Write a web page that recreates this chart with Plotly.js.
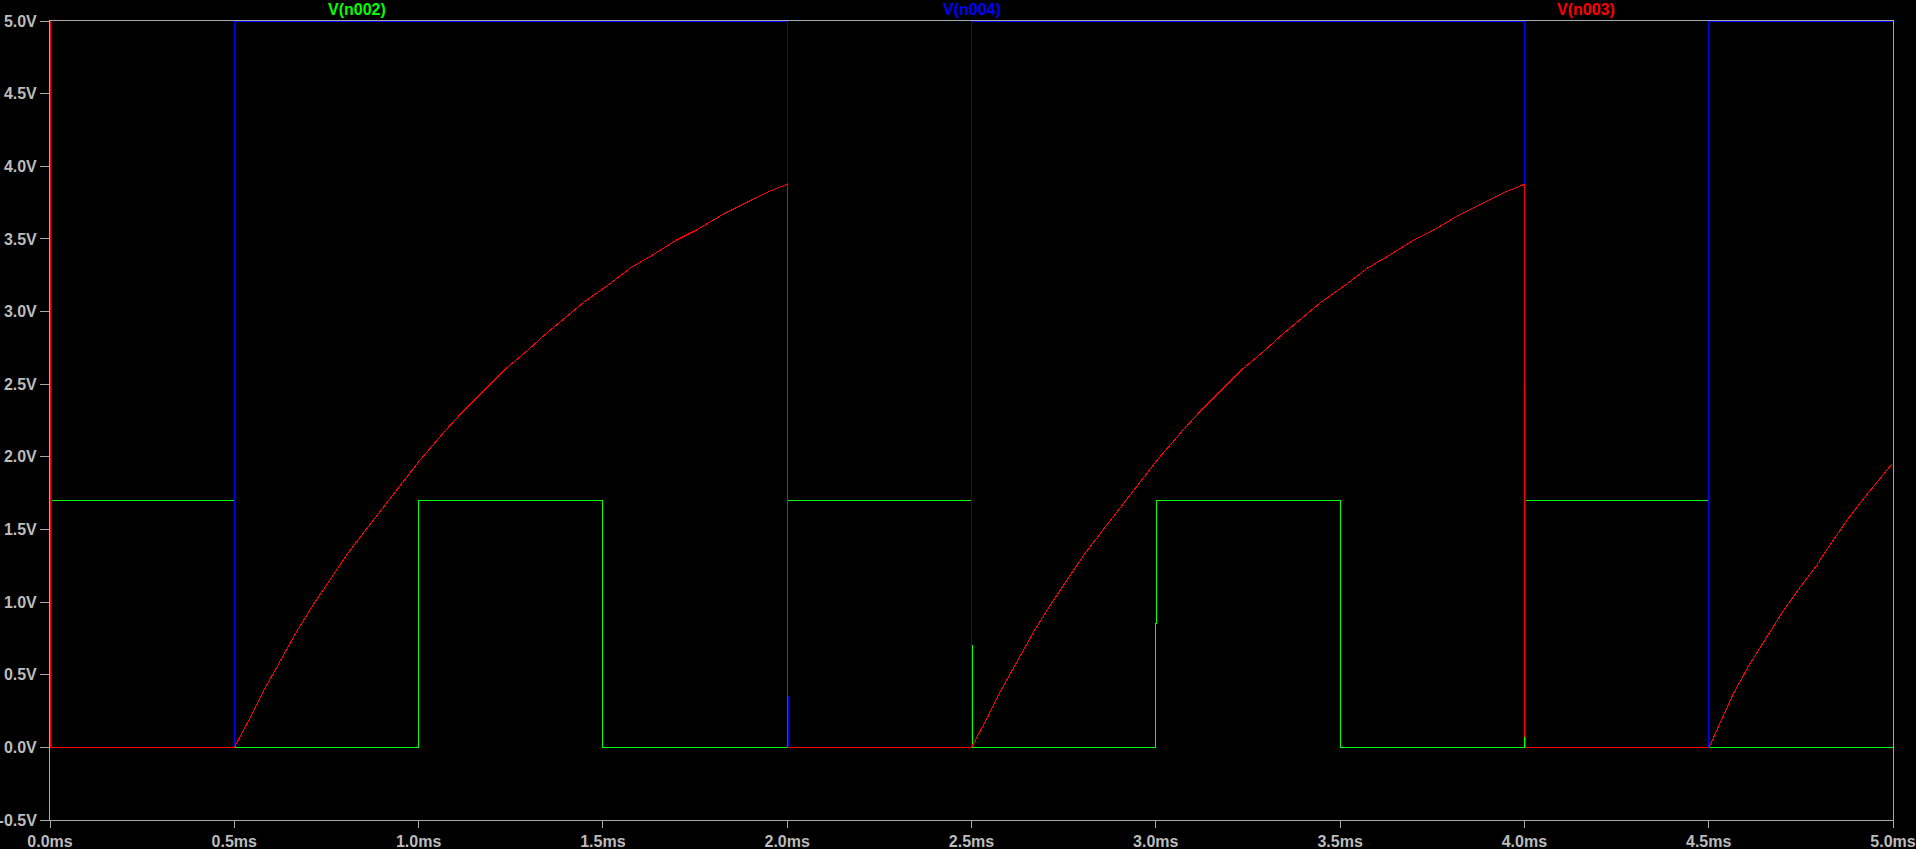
<!DOCTYPE html>
<html>
<head>
<meta charset="utf-8">
<script src="https://cdn.plot.ly/plotly-3.0.1.min.js"></script>
<style>
  html, body { margin: 0; padding: 0; background: #000; }
  #chart { width: 1916px; height: 849px; }
  #chart .js-line { shape-rendering: crispEdges; }
</style>
</head>
<body>
<div id="chart"></div>
<script>
// ---- Data (time in ms, voltage in V) ----
const seriesNames = ["V(n002)", "V(n004)", "V(n003)"];

// V(n002) – green square wave
const greenT = [0.0, 0.5, 0.5, 1.0, 1.0, 1.5, 1.5, 2.0, 2.0, 2.5, 2.5, 2.503, 2.503,
                3.0, 3.0, 3.002, 3.002, 3.5, 3.5, 3.502, 3.502, 4.0, 4.0, 4.004, 4.004, 4.5, 4.5, 5.0];
const greenV = [1.7, 1.7, 0.0, 0.0, 1.7, 1.7, 0.0, 0.0, 1.7, 1.7, 0.70, 0.70, 0.0,
                0.0, 0.85, 0.85, 1.7, 1.7, 0.85, 0.85, 0.0, 0.0, 0.846, 0.846, 1.7, 1.7, 0.0, 0.0];

// V(n004) – blue
const blueT = [0.003, 0.003, 0.5, 0.5, 2.0, 2.0, 2.004, 2.004, 2.5, 2.5, 4.0, 4.0, 4.003, 4.003, 4.5, 4.5, 5.0];
const blueV = [3.48, 0.0, 0.0, 5.0, 5.0, 0.35, 0.35, 0.0, 0.0, 5.0, 5.0, 2.49, 2.49, 0.0, 0.0, 5.0, 5.0];

// V(n003) – red charging curve
const redT = [0.0, 0.0, 0.5,
  0.543, 0.579, 0.625, 0.670, 0.715, 0.751, 0.806, 0.851, 0.896, 0.941, 1.002,
  1.068, 1.113, 1.158, 1.235, 1.294, 1.339, 1.393, 1.447, 1.518, 1.574, 1.628,
  1.701, 1.755, 1.827, 1.890, 1.945, 2.0,
  2.0, 2.5,
  2.543, 2.579, 2.625, 2.670, 2.715, 2.751, 2.806, 2.851, 2.896, 2.941, 3.002,
  3.068, 3.113, 3.158, 3.235, 3.294, 3.339, 3.393, 3.447, 3.518, 3.574, 3.628,
  3.701, 3.755, 3.827, 3.890, 3.945, 4.001,
  4.001, 4.004, 4.004, 4.501,
  4.530, 4.566, 4.611, 4.657, 4.702, 4.747, 4.792, 4.824, 4.874, 4.919, 4.964, 4.998];
const redV = [5.0, 0.0, 0.0,
  0.204, 0.388, 0.594, 0.801, 0.985, 1.123, 1.329, 1.478, 1.627, 1.777, 1.972,
  2.167, 2.293, 2.408, 2.603, 2.729, 2.833, 2.948, 3.062, 3.189, 3.299, 3.379,
  3.494, 3.563, 3.671, 3.751, 3.820, 3.877,
  0.0, 0.0,
  0.204, 0.388, 0.594, 0.801, 0.985, 1.123, 1.329, 1.478, 1.627, 1.777, 1.972,
  2.167, 2.293, 2.408, 2.603, 2.729, 2.833, 2.948, 3.062, 3.189, 3.299, 3.379,
  3.494, 3.563, 3.671, 3.751, 3.820, 3.877,
  0.074, 0.074, 0.0, 0.0,
  0.158, 0.365, 0.572, 0.755, 0.939, 1.099, 1.249, 1.375, 1.559, 1.708, 1.846, 1.953];

// Tick labels
const xTickVals = [0.0, 0.5, 1.0, 1.5, 2.0, 2.5, 3.0, 3.5, 4.0, 4.5, 5.0];
const xTickText = ["0.0ms", "0.5ms", "1.0ms", "1.5ms", "2.0ms", "2.5ms", "3.0ms", "3.5ms", "4.0ms", "4.5ms", "5.0ms"];
const yTickVals = [-0.5, 0.0, 0.5, 1.0, 1.5, 2.0, 2.5, 3.0, 3.5, 4.0, 4.5, 5.0];
const yTickText = ["-0.5V", "0.0V", "0.5V", "1.0V", "1.5V", "2.0V", "2.5V", "3.0V", "3.5V", "4.0V", "4.5V", "5.0V"];

const colors = ["#00ff00", "#0000ff", "#ff0000"];
const axisGrey = "#a8a8a8";
const labelGrey = "#bcbcbc";
const fontFam = "Liberation Sans, Arial, sans-serif";

const traces = [
  { x: greenT, y: greenV, name: seriesNames[0], mode: "lines", cliponaxis: false, line: { color: colors[0], width: 1 } },
  { x: blueT,  y: blueV,  name: seriesNames[1], mode: "lines", cliponaxis: false, line: { color: colors[1], width: 1 } },
  { x: redT,   y: redV,   name: seriesNames[2], mode: "lines", cliponaxis: false, line: { color: colors[2], width: 1 } }
];

const titleX = [1/6, 1/2, 5/6];
const annotations = seriesNames.map((n, i) => ({
  text: n, x: titleX[i], xref: "paper", y: 1, yref: "paper",
  xanchor: "center", yanchor: "middle", yshift: 12, showarrow: false,
  font: { family: fontFam, size: 16, color: colors[i], weight: "bold" }
}));

const layout = {
  width: 1916, height: 849,
  margin: { l: 50, r: 23, t: 21, b: 29, pad: 0 },
  paper_bgcolor: "#000000", plot_bgcolor: "#000000",
  showlegend: false,
  xaxis: {
    range: [0, 5], showgrid: false, zeroline: false, layer: "below traces",
    showline: true, mirror: true, linecolor: axisGrey, linewidth: 1,
    ticks: "outside", ticklen: 7, tickcolor: axisGrey, tickwidth: 1,
    tickmode: "array", tickvals: xTickVals, ticktext: xTickText,
    tickfont: { family: fontFam, size: 16, color: labelGrey, weight: "bold" }
  },
  yaxis: {
    range: [-0.5, 5.0], showgrid: false, zeroline: false, layer: "below traces",
    showline: true, mirror: true, linecolor: axisGrey, linewidth: 1,
    ticks: "outside", ticklen: 9, tickcolor: axisGrey, tickwidth: 1,
    tickmode: "array", tickvals: yTickVals, ticktext: yTickText,
    tickfont: { family: fontFam, size: 16, color: labelGrey, weight: "bold" }
  },
  annotations: annotations
};

Plotly.newPlot("chart", traces, layout, { staticPlot: true, displayModeBar: false });
</script>
</body>
</html>
